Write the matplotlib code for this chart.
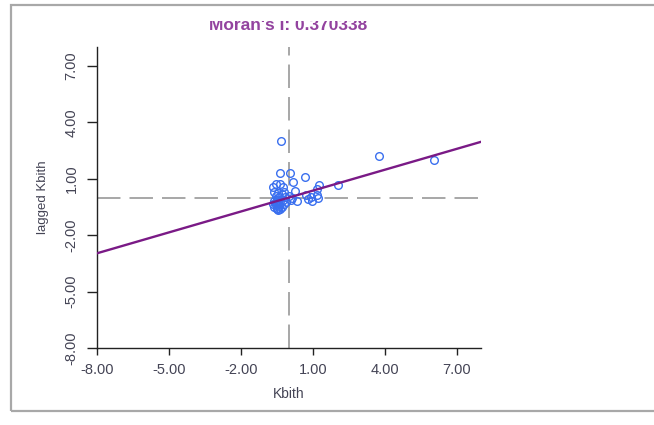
import numpy as np
import matplotlib
matplotlib.use('Agg')
import matplotlib.pyplot as plt
from matplotlib.patches import Rectangle

plt.rcParams['font.family'] = ['Liberation Sans', 'DejaVu Sans']

# standardized Kbith vs spatially lagged Kbith
kbith = [-0.33, 3.75, 6.04, -0.38, 0.06, 0.68, 0.19, 1.26, 2.04, -0.55, -0.37,
         -0.64, -0.23, 0.25, 1.17, 0.72, 0.91, 1.16, 1.21, 0.97, 0.36, 0.80,
         -0.60, -0.55, -0.50, -0.45, -0.60, -0.40, -0.35, -0.50, -0.30, -0.55,
         -0.40, -0.25, -0.20, -0.45, -0.30, -0.60, -0.15, -0.50, -0.35, -0.65,
         -0.10, -0.20, 0.00, 0.10, 0.15, -0.45, -0.55, -0.40]
lag_kbith = [3.00, 2.23, 2.02, 1.30, 1.30, 1.09, 0.81, 0.68, 0.65, 0.75, 0.75,
             0.58, 0.54, 0.33, 0.47, 0.16, 0.05, 0.16, -0.02, -0.16, -0.16, -0.07,
             -0.50, -0.40, -0.55, -0.30, -0.20, -0.45, -0.20, -0.10, -0.50, 0.10,
             0.05, -0.10, -0.35, 0.25, 0.20, 0.30, 0.05, -0.60, -0.60, -0.35,
             -0.25, 0.30, 0.10, -0.10, 0.00, -0.65, -0.30, -0.35]
moran_i = 0.370338
ticks = [-8, -5, -2, 1, 4, 7]
tick_labels = ['-8.00', '-5.00', '-2.00', '1.00', '4.00', '7.00']

fig = plt.figure(figsize=(6.54, 4.25), dpi=100)
ax = fig.add_axes([0.148, 0.181, 0.587, 0.708])

ax.axvline(0, color='#a0a0a0', lw=1.3, dashes=(13, 5), zorder=1)
ax.axhline(0, color='#a0a0a0', lw=1.3, dashes=(13, 5), zorder=1)
ax.plot(kbith, lag_kbith, 'o', mfc='none', mec='#3a6fef', mew=1.0, ms=5.5, zorder=2)
xx = np.array([-8, 8])
ax.plot(xx, moran_i * xx, color='#7a1a86', lw=1.7, zorder=3)

ax.set_xlim(-8, 8)
ax.set_ylim(-8, 8)
ax.set_xticks(ticks)
ax.set_xticklabels(tick_labels)
ax.set_yticks(ticks)
ax.set_yticklabels(tick_labels, rotation=90, va='center')
ax.tick_params(axis='x', length=5, width=1, pad=6, labelsize=10.5, colors='#222222', labelcolor='#444455')
ax.tick_params(axis='y', length=7, width=1, pad=6, labelsize=10.5, colors='#222222', labelcolor='#444455')
for s in ['top', 'right']:
    ax.spines[s].set_visible(False)
for s in ['left', 'bottom']:
    ax.spines[s].set_color('#222222')
    ax.spines[s].set_linewidth(1.0)
ax.set_xlabel('Kbith', fontsize=10, color='#444455', labelpad=7)
ax.set_ylabel('lagged Kbith', fontsize=9.5, color='#444455', labelpad=11)

# title, cut off at the top like in the screenshot
fig.text(0.440, 0.939, "Moran's I: %f" % moran_i, ha='center', va='center',
         fontsize=12.5, color='#93439f', fontweight='bold', zorder=3)
fig.patches.append(Rectangle((0, 0.95), 1, 0.06, transform=fig.transFigure,
                             facecolor='white', edgecolor='none', zorder=4))
# window frame
fig.patches.append(Rectangle((0.017, 0.033), 0.985, 0.955, transform=fig.transFigure,
                             facecolor='none', edgecolor='#a8a8a8', lw=1.6, zorder=5))

fig.savefig('out.png', dpi=100)
